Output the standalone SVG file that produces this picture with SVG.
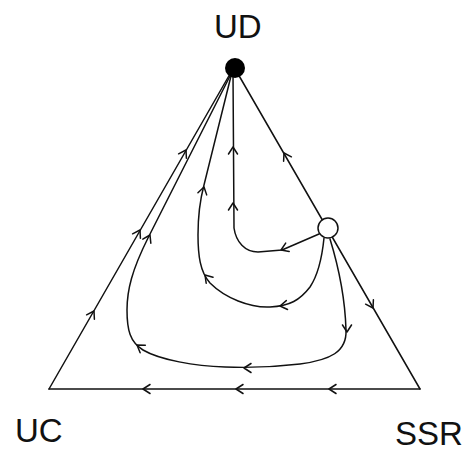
<svg xmlns="http://www.w3.org/2000/svg" xmlns:xlink="http://www.w3.org/1999/xlink" width="466" height="452" viewBox="0 0 466 452">
<style>
.ln{fill:none;stroke:#111;stroke-width:1.5;stroke-linejoin:round;stroke-linecap:round}
.lbl{font-family:"Liberation Sans",Arial,sans-serif;fill:#111;font-size:33px}
</style>
<defs>
<path id="chev" d="M-7,-4.5 L0,0 L-7,4.5" class="ln"/>
</defs>
<rect width="466" height="452" fill="#fff"/>
<g id="connectors">
<path class="ln" d="M49,389 L234,67"/>
<path class="ln" d="M234,67 L420,389"/>
<path class="ln" d="M49,389 L420,389"/>
<path class="ln" d="M319,234 L282,250 L258,252 C245,252 236,242 234,228 L233,72"/>
<path class="ln" d="M324,238 C322,258 318,275 310,287 C300,300 290,306 270,307 C250,308 225,298 210,283 C200,272 198,255 198,235 C198,215 200,200 204,185 L231,76"/>
<path class="ln" d="M330,239 C338,265 345,295 346,330 C347,352 330,360 300,364 C275,367 250,368 225,367 C195,366 160,360 143,350 C130,342 127,330 127,310 C127,290 132,270 148,238 L230,76"/>
<g id="arrows">
<use xlink:href="#chev" transform="translate(94,311) rotate(-60)"/>
<use xlink:href="#chev" transform="translate(140,230) rotate(-60)"/>
<use xlink:href="#chev" transform="translate(186,150) rotate(-60)"/>
<use xlink:href="#chev" transform="translate(284,153) rotate(-120)"/>
<use xlink:href="#chev" transform="translate(373,308) rotate(60)"/>
<use xlink:href="#chev" transform="translate(143,389) rotate(180)"/>
<use xlink:href="#chev" transform="translate(236,389) rotate(180)"/>
<use xlink:href="#chev" transform="translate(329,389) rotate(180)"/>
<use xlink:href="#chev" transform="translate(281,250) rotate(157)"/>
<use xlink:href="#chev" transform="translate(233,147) rotate(-90)"/>
<use xlink:href="#chev" transform="translate(233,203) rotate(-90)"/>
<use xlink:href="#chev" transform="translate(280,306) rotate(172)"/>
<use xlink:href="#chev" transform="translate(205,275) rotate(-131)"/>
<use xlink:href="#chev" transform="translate(204,187) rotate(-76)"/>
<use xlink:href="#chev" transform="translate(347,332) rotate(90)"/>
<use xlink:href="#chev" transform="translate(244,368) rotate(180)"/>
<use xlink:href="#chev" transform="translate(137,345) rotate(-145)"/>
<use xlink:href="#chev" transform="translate(150,235) rotate(-63)"/>
</g>
</g>
<g id="node-UD">
<circle cx="235" cy="68" r="10" fill="#000"/>
<text class="lbl" x="214" y="38">UD</text>
</g>
<g id="node-interior">
<circle cx="328" cy="228" r="10" fill="#fff" stroke="#111" stroke-width="1.5"/>
</g>
<g id="node-UC">
<text class="lbl" x="15" y="442">UC</text>
</g>
<g id="node-SSR">
<text class="lbl" x="395" y="445">SSR</text>
</g>
</svg>
